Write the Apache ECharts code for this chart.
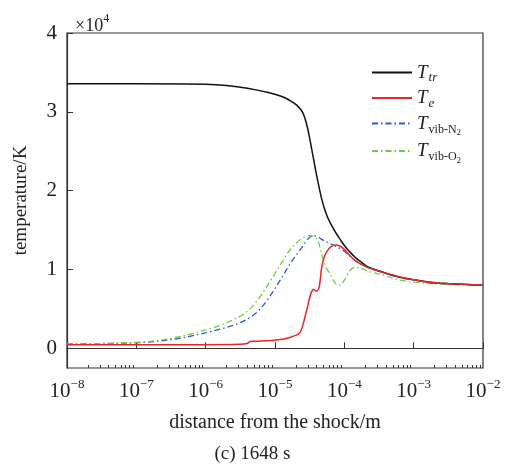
<!DOCTYPE html>
<html>
<head>
<meta charset="utf-8">
<script src="https://cdn.jsdelivr.net/npm/echarts@6/dist/echarts.min.js"></script>
<style>
html,body{margin:0;padding:0;background:#fff;}
#c{width:505px;height:464px;}
</style>
</head>
<body>
<div id="c"></div>
<script>
// distance from the shock (m) and temperature (x10^4 K)
var xTtr = [1e-8, 1e-7, 1e-6, 2e-6, 4e-6, 8e-6, 1.2e-5, 1.6e-5, 2.06e-5, 2.535e-5, 2.9e-5, 3.2e-5, 3.53e-5, 3.9e-5, 4.32e-5, 4.76e-5, 5.26e-5, 5.81e-5, 6.64e-5, 7.59e-5, 8.66e-5, 1.02e-4, 1.21e-4, 1.43e-4, 1.68e-4, 2.12e-4, 2.77e-4, 3.61e-4, 6.35e-4, 1.12e-3, 1.9e-3, 3.34e-3, 1e-2];
var yTtr = [3.355, 3.355, 3.35, 3.335, 3.30, 3.245, 3.20, 3.15, 3.085, 2.984, 2.82, 2.64, 2.44, 2.235, 2.045, 1.88, 1.75, 1.65, 1.55, 1.46, 1.385, 1.295, 1.22, 1.155, 1.105, 1.04, 0.997, 0.965, 0.90, 0.863, 0.832, 0.82, 0.80];

var xTe = [1e-8, 9.77e-7, 3.13e-6, 3.95e-6, 4.36e-6, 5.15e-6, 9.05e-6, 1.39e-5, 1.94e-5, 2.29e-5, 2.535e-5, 2.8e-5, 3.04e-5, 3.31e-5, 3.59e-5, 3.97e-5, 4.315e-5, 4.53e-5, 4.76e-5, 5.09e-5, 5.62e-5, 6.42e-5, 7.59e-5, 9.57e-5, 1.21e-4, 1.51e-4, 2.12e-4, 3.61e-4, 6.35e-4, 1.12e-3, 1.9e-3, 3.34e-3, 1e-2];
var yTe = [0.045, 0.045, 0.05, 0.06, 0.085, 0.09, 0.10, 0.12, 0.16, 0.20, 0.30, 0.45, 0.58, 0.70, 0.745, 0.725, 0.77, 0.90, 1.05, 1.15, 1.23, 1.29, 1.31, 1.27, 1.17, 1.10, 1.03, 0.965, 0.905, 0.863, 0.832, 0.82, 0.80];

var xTN2 = [1e-8, 2.99e-8, 1.25e-7, 3.82e-7, 6.56e-7, 1.155e-6, 1.72e-6, 2.48e-6, 3.34e-6, 4.36e-6, 5.69e-6, 7.59e-6, 1e-5, 1.32e-5, 1.645e-5, 2.06e-5, 2.535e-5, 2.87e-5, 3.2e-5, 3.57e-5, 4.17e-5, 5.0e-5, 6.94e-5, 9.63e-5, 1.21e-4, 1.51e-4, 2.12e-4, 3.61e-4, 6.35e-4, 1.12e-3, 3.34e-3, 1e-2];
var yTN2 = [0.055, 0.06, 0.075, 0.12, 0.16, 0.21, 0.25, 0.29, 0.335, 0.39, 0.47, 0.60, 0.76, 0.93, 1.07, 1.19, 1.30, 1.37, 1.41, 1.43, 1.41, 1.37, 1.31, 1.24, 1.17, 1.10, 1.03, 0.96, 0.90, 0.86, 0.82, 0.80];

var xTO2 = [1e-8, 2.99e-8, 1.25e-7, 2.19e-7, 3.82e-7, 6.56e-7, 1.155e-6, 1.72e-6, 2.48e-6, 3.34e-6, 4.36e-6, 5.69e-6, 7.59e-6, 1e-5, 1.32e-5, 1.645e-5, 2.06e-5, 2.535e-5, 3.2e-5, 3.65e-5, 4.17e-5, 4.76e-5, 5.44e-5, 6.42e-5, 7.34e-5, 8.24e-5, 9.25e-5, 1.057e-4, 1.21e-4, 1.43e-4, 1.8e-4, 2.35e-4, 3.61e-4, 6.35e-4, 1.12e-3, 3.34e-3, 1e-2];
var yTO2 = [0.055, 0.06, 0.08, 0.10, 0.14, 0.19, 0.25, 0.30, 0.36, 0.42, 0.50, 0.62, 0.78, 0.95, 1.12, 1.25, 1.34, 1.40, 1.43, 1.42, 1.36, 1.18, 1.03, 0.92, 0.83, 0.80, 0.82, 0.90, 0.99, 1.03, 1.01, 0.97, 0.93, 0.865, 0.835, 0.81, 0.80];

var seriesNames = ['Ttr', 'Te', 'TN2', 'TO2'];
var xMajor = [1e-8, 1e-7, 1e-6, 1e-5, 1e-4, 1e-3, 1e-2];
var xMinor = [
  2e-8,3e-8,4e-8,5e-8,6e-8,7e-8,8e-8,9e-8,
  2e-7,3e-7,4e-7,5e-7,6e-7,7e-7,8e-7,9e-7,
  2e-6,3e-6,4e-6,5e-6,6e-6,7e-6,8e-6,9e-6,
  2e-5,3e-5,4e-5,5e-5,6e-5,7e-5,8e-5,9e-5,
  2e-4,3e-4,4e-4,5e-4,6e-4,7e-4,8e-4,9e-4,
  2e-3,3e-3,4e-3,5e-3,6e-3,7e-3,8e-3,9e-3
];
var yTicks = [0, 1, 2, 3, 4];

function zip(xs, ys) { return xs.map(function (x, i) { return [x, ys[i]]; }); }

var FONT = '"Liberation Serif", "DejaVu Serif", serif';
var TXT = '#222';

var chart = echarts.init(document.getElementById('c'), null, {renderer: 'canvas'});
var legendRich = {
  T: {fontFamily: FONT, fontSize: 19, fontStyle: 'italic', color: TXT, lineHeight: 24, verticalAlign: 'middle'},
  s: {fontFamily: FONT, fontSize: 13, fontStyle: 'italic', color: TXT, lineHeight: 24, verticalAlign: 'bottom', padding: [0, 0, 0, 1]},
  r: {fontFamily: FONT, fontSize: 12, color: TXT, lineHeight: 24, verticalAlign: 'bottom', padding: [0, 0, 0, 1]},
  n: {fontFamily: FONT, fontSize: 9, color: TXT, lineHeight: 24, verticalAlign: 'bottom', padding: [0, 0, -2, 0]}
};
var legendText = {
  Ttr: '{T|T}{s|tr}',
  Te: '{T|T}{s|e}',
  TN2: '{T|T}{r|vib-N}{n|2}',
  TO2: '{T|T}{r|vib-O}{n|2}'
};

function lineSeries(name, xs, ys, color, width, type, z) {
  return {
    name: name, type: 'line', data: zip(xs, ys), showSymbol: false, symbol: 'none', symbolSize: 0,
    smooth: 0.35, z: z,
    lineStyle: {color: color, width: width, type: type}, itemStyle: {color: color}
  };
}

var option = {
  animation: false,
  backgroundColor: '#fff',
  textStyle: {fontFamily: FONT},
  title: [
    {text: '{a|×10}{b|4}', left: 70, top: 8,
     textStyle: {fontWeight: 'normal', rich: {
       a: {fontFamily: FONT, fontSize: 18, fontWeight: 'normal', color: TXT, lineHeight: 22, verticalAlign: 'bottom'},
       b: {fontFamily: FONT, fontSize: 12, fontWeight: 'normal', color: TXT, lineHeight: 22, verticalAlign: 'top'}
     }}},
    {text: '(c) 1648 s', left: 'center', top: 440,
     textStyle: {fontFamily: FONT, fontSize: 19, fontWeight: 'normal', color: TXT}}
  ],
  grid: {left: 67, right: 22, top: 33, bottom: 96, show: true, borderColor: '#333', borderWidth: 1.2, backgroundColor: 'transparent'},
  legend: {
    orient: 'vertical', left: 366, top: 58, itemWidth: 40, itemHeight: 1, itemGap: 4,
    data: seriesNames,
    itemStyle: {opacity: 0},
    formatter: function (n) { return legendText[n]; },
    textStyle: {rich: legendRich, padding: [0, 0, 0, 0]}
  },
  xAxis: [{
    type: 'log', logBase: 10, min: 1e-8, max: 1e-2,
    name: 'distance from the shock/m', nameLocation: 'middle', nameGap: 45,
    nameTextStyle: {fontFamily: FONT, fontSize: 20, color: TXT},
    axisLine: {lineStyle: {color: '#333', width: 1.2}},
    axisTick: {inside: true, length: 6, lineStyle: {color: '#333'}, customValues: xMajor},
    axisLabel: {
      customValues: xMajor, margin: 10,
      formatter: function (v) { var e = Math.round(Math.log10(v)); return '{b|10}{s|\u2212' + Math.abs(e) + '}'; },
      rich: {
        b: {fontFamily: FONT, fontSize: 21, color: TXT, lineHeight: 24, verticalAlign: 'bottom'},
        s: {fontFamily: FONT, fontSize: 13, color: TXT, lineHeight: 24, verticalAlign: 'top'}
      }
    },
    splitLine: {show: false}, minorTick: {show: false}
  }, {
    type: 'log', logBase: 10, min: 1e-8, max: 1e-2, position: 'bottom',
    axisLine: {show: false},
    axisTick: {inside: true, length: 3, lineStyle: {color: '#333'}, customValues: xMinor},
    axisLabel: {show: false},
    splitLine: {show: false}
  }],
  yAxis: {
    type: 'value', min: -0.25, max: 4,
    name: 'temperature/K', nameLocation: 'middle', nameGap: 36, nameRotate: 90,
    nameTextStyle: {fontFamily: FONT, fontSize: 19, color: TXT},
    axisLine: {show: true, lineStyle: {color: '#333', width: 1.2}},
    axisTick: {show: true, inside: true, length: 6, lineStyle: {color: '#333'}, customValues: yTicks},
    axisLabel: {customValues: yTicks, fontFamily: FONT, fontSize: 21, color: TXT, margin: 10},
    splitLine: {show: false}
  },
  series: [
    lineSeries('Ttr', xTtr, yTtr, '#111', 1.5, 'solid', 3),
    lineSeries('Te', xTe, yTe, '#e8262a', 1.5, 'solid', 4),
    lineSeries('TN2', xTN2, yTN2, '#2a5cc8', 1.3, [6, 3, 1.5, 3], 2),
    lineSeries('TO2', xTO2, yTO2, '#72c83e', 1.3, [6, 3, 1.5, 3], 2)
  ]
};
chart.setOption(option);
</script>
</body>
</html>
